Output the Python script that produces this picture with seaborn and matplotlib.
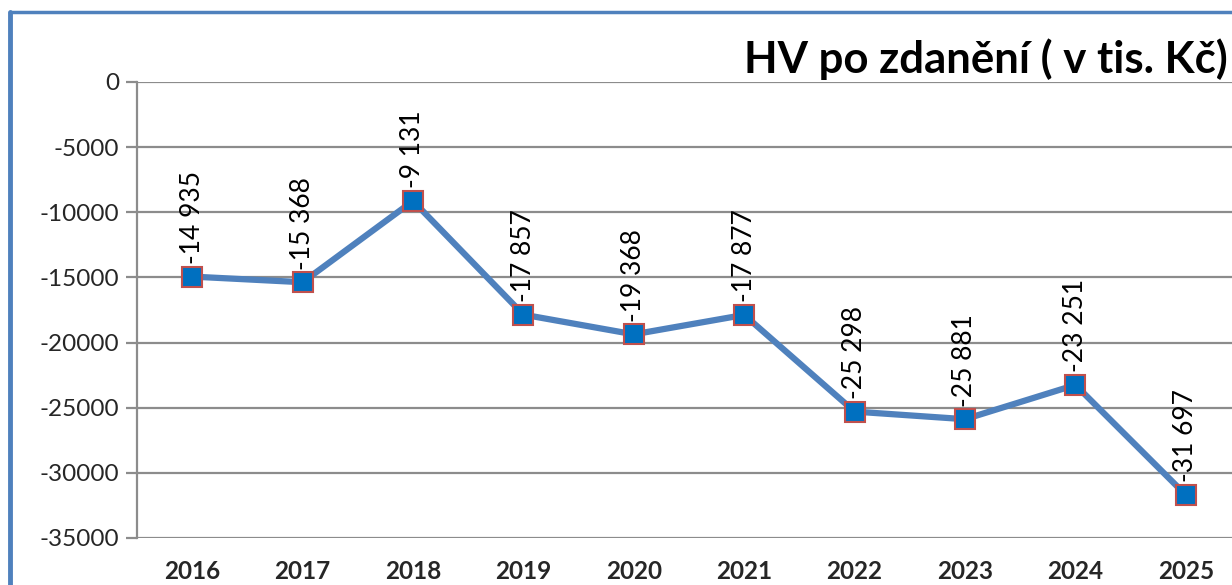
import matplotlib
matplotlib.use('Agg')
import matplotlib.pyplot as plt
from matplotlib.lines import Line2D
import seaborn as sns
import pandas as pd

# data
years = ['2016', '2017', '2018', '2019', '2020', '2021', '2022', '2023', '2024', '2025']
hv_values = [-14935, -15368, -9131, -17857, -19368, -17877, -25298, -25881, -23251, -31697]
y_ticks = [0, -5000, -10000, -15000, -20000, -25000, -30000, -35000]
title = 'HV po zdanění ( v tis. Kč)'

sns.set_style('white')
plt.rcParams['font.family'] = ['Lato', 'DejaVu Sans']

W, H, DPI = 1232, 585, 100
fig = plt.figure(figsize=(W / DPI, H / DPI), dpi=DPI)
fig.patch.set_facecolor('white')

# plot area in pixels (left, top, right, bottom) - right side is cut off in the reference
left, top, right, bottom = 137, 82, 1241, 538
ax = fig.add_axes([left / W, (H - bottom) / H, (right - left) / W, (bottom - top) / H])

df = pd.DataFrame({'pos': range(len(years)), 'hv': hv_values})
sns.lineplot(data=df, x='pos', y='hv', ax=ax, color='#4F81BD', linewidth=4.5,
             marker='s', markersize=14, markerfacecolor='#0070C0',
             markeredgecolor='#C0504D', markeredgewidth=1.5, zorder=3)

for i, v in enumerate(hv_values):
    label = f'{v:,}'.replace(',', ' ')
    ax.annotate(label, (i, v), xytext=(0, 9), textcoords='offset points',
                rotation=90, ha='center', va='bottom', fontsize=19, color='black',
                annotation_clip=False)

ax.set_xlim(-0.5, len(years) - 0.5)
ax.set_ylim(-35000, 0)
ax.set_xticks(range(len(years)))
ax.set_xticklabels(years, fontsize=17.5, fontweight='bold')
ax.set_yticks(y_ticks)
ax.set_yticklabels([str(t) for t in y_ticks], fontsize=17.5)
ax.set_xlabel('')
ax.set_ylabel('')

ax.yaxis.grid(True, color='#8C8C8C', linewidth=1.6)
ax.set_axisbelow(True)
ax.tick_params(axis='y', length=8, width=1.6, color='#8C8C8C', pad=5, direction='out', left=True)
ax.tick_params(axis='x', length=0, pad=16)
for side in ['top', 'right', 'bottom']:
    ax.spines[side].set_visible(False)
ax.spines['left'].set_color('#8C8C8C')
ax.spines['left'].set_linewidth(1.6)

fig.text(1228 / W, 1 - 59 / H, title, ha='right', va='center',
         fontsize=31.5, fontweight='bold', color='black')

# outer chart frame (blue), cropped at right and bottom
fig.add_artist(Line2D([10 / W, 10 / W], [0, 1 - 12 / H], color='#4F81BD', linewidth=3.5,
                      transform=fig.transFigure))
fig.add_artist(Line2D([10 / W, 1], [1 - 12 / H, 1 - 12 / H], color='#4F81BD', linewidth=2.5,
                      transform=fig.transFigure))

fig.savefig('out.png', dpi=DPI, facecolor='white')
